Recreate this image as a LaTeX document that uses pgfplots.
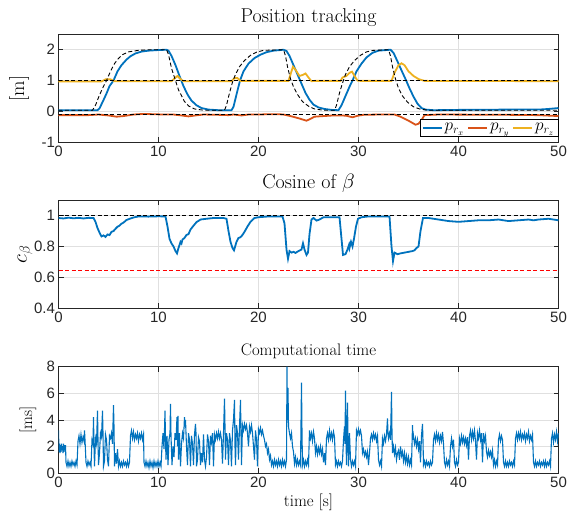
\documentclass[border=0pt]{standalone}
\usepackage{fontspec}
\usepackage{pgfplots}
\pgfplotsset{compat=1.18}
\newfontfamily\tickfont{Liberation Sans}
\definecolor{mblue}{RGB}{0,114,189}
\definecolor{mred}{RGB}{217,83,25}
\definecolor{myellow}{RGB}{237,177,32}
\definecolor{maxis}{RGB}{38,38,38}
\definecolor{mgrid}{RGB}{224,224,224}

\pgfplotsset{
  mstyle/.style={
    scale only axis, width=500pt,
    xmin=0, xmax=50, xtick={0,10,...,50},
    axis line style={maxis, line width=0.6pt},
    tick style={maxis, line width=0.6pt}, tick align=inside,
    major tick length=5pt,
    grid=major, grid style={mgrid, line width=0.6pt},
    tick label style={font=\tickfont\fontsize{15}{15}\selectfont, text=maxis},
    /pgf/number format/assume math mode=true,
    title style={font=\fontsize{20}{22}\selectfont, yshift=-2pt},
    label style={font=\fontsize{20}{22}\selectfont},
  },
  refline/.style={black, line width=0.9pt, dash pattern=on 4pt off 2.5pt, forget plot},
}

\begin{document}
\begin{tikzpicture}
\path[use as bounding box] (0,0) rectangle (568pt,517pt);

% ---------- position tracking
\begin{axis}[mstyle,
  at={(58.5pt,374.7pt)}, anchor=south west, height=108pt,
  ymin=-1, ymax=2.5, ytick={-1,0,1,2},
  title={Position tracking},
  ylabel={[m]},
  ylabel style={at={(axis description cs:-0.079,0.5)}, anchor=center},
  legend style={at={(1,0.052)}, anchor=south east, legend columns=3,
    draw=black, line width=0.6pt, font=\fontsize{17}{17}\selectfont,
    inner sep=2pt, /tikz/every even column/.append style={column sep=1pt}},
  legend image code/.code={\draw[#1, line width=1.8pt] (0pt,0pt) -- (19pt,0pt);},
]
\addplot[mblue, line width=1.8pt] coordinates {
(0,0.04)(3.9,0.04)(4.1,0.1)(4.4,0.3)(4.8,0.58)(5.1,0.82)(5.5,1.0)(5.9,1.3)(6.3,1.5)
(6.8,1.68)(7.2,1.79)(7.7,1.88)(8.3,1.94)(9.0,1.97)(10.0,1.99)(10.8,2.0)(11.0,1.97)
(11.3,1.8)(11.7,1.5)(12.1,1.15)(12.5,0.82)(12.9,0.55)(13.3,0.35)(13.8,0.2)(14.3,0.11)
(15.0,0.06)(16.0,0.04)(17.3,0.04)(17.5,0.15)(17.8,0.55)(18.15,1.0)(18.5,1.3)(19.0,1.55)
(19.6,1.73)(20.2,1.84)(20.8,1.92)(21.5,1.97)(22.5,2.0)(22.8,1.96)(23.1,1.8)(23.5,1.5)
(23.9,1.2)(24.3,0.9)(24.7,0.6)(25.1,0.38)(25.5,0.22)(26.0,0.13)(26.6,0.08)(27.3,0.05)
(28.0,0.04)(28.3,0.2)(28.7,0.5)(29.1,0.8)(29.4,1.0)(29.8,1.3)(30.3,1.55)(30.8,1.75)
(31.4,1.9)(32.0,1.97)(33.2,2.0)(33.5,1.9)(33.9,1.62)(34.3,1.33)(34.7,1.05)(35.1,0.75)
(35.5,0.48)(35.9,0.25)(36.3,0.11)(36.7,0.06)(37.5,0.04)(40,0.05)(45,0.06)(48,0.06)
(49,0.08)(50,0.11)};
\addlegendentry{$p_{r_x}$}
\addplot[mred, line width=1.8pt] coordinates {
(0,-0.12)(3,-0.12)(4,-0.1)(5,-0.13)(5.8,-0.17)(6.5,-0.15)(7.5,-0.1)(8.5,-0.08)(9.5,-0.09)
(10.5,-0.1)(11.5,-0.1)(12.3,-0.13)(13,-0.16)(13.7,-0.13)(14.5,-0.1)(16,-0.11)(17,-0.12)
(17.5,-0.1)(18.3,-0.13)(19,-0.1)(20,-0.1)(21,-0.09)(22,-0.09)(22.5,-0.1)(23.2,-0.15)
(24,-0.22)(24.8,-0.3)(25.2,-0.24)(25.6,-0.17)(26.5,-0.15)(27.5,-0.13)(28.3,-0.13)
(28.8,-0.14)(29.4,-0.19)(29.9,-0.14)(30.5,-0.11)(32,-0.1)(33.6,-0.1)(34.2,-0.17)
(35,-0.3)(35.7,-0.43)(36,-0.4)(36.3,-0.28)(36.6,-0.12)(38,-0.1)(45,-0.11)(48,-0.12)(50,-0.15)};
\addlegendentry{$p_{r_y}$}
\addplot[myellow, line width=1.8pt] coordinates {
(0,0.97)(4.3,0.97)(4.7,1.04)(5.2,1.04)(5.6,0.98)(11.3,0.98)(11.7,1.1)(11.9,1.15)
(12.2,1.05)(12.5,0.98)(17.3,0.98)(17.6,1.08)(17.9,1.08)(18.2,0.99)(23.0,0.99)(23.2,1.2)
(23.45,1.45)(23.7,1.35)(24.1,1.15)(24.4,1.18)(24.7,1.23)(25.0,1.1)(25.3,0.98)(25.6,0.99)
(28.2,0.99)(28.4,1.1)(28.8,1.15)(29.1,1.25)(29.35,1.29)(29.6,1.15)(29.9,1.0)(30.2,0.99)
(33.3,0.99)(33.6,1.25)(34.0,1.5)(34.3,1.56)(34.6,1.5)(35.0,1.3)(35.5,1.15)(36.0,1.05)
(36.6,0.99)(50,0.98)};
\addlegendentry{$p_{r_z}$}
\addplot[refline] coordinates {
(0,0.04)(3.4,0.04)(3.7,0.2)(4.0,0.45)(4.4,0.75)(4.8,1.0)(5.2,1.3)(5.6,1.55)(6.0,1.72)
(6.4,1.84)(7.0,1.93)(8.0,1.98)(9.0,2.0)(10.8,2.0)(11.0,1.85)(11.3,1.4)(11.6,1.1)(12.0,0.7)
(12.6,0.32)(13.0,0.18)(13.6,0.08)(14.5,0.04)(16.6,0.04)(16.8,0.2)(17.1,0.6)(17.4,0.95)
(17.7,1.2)(18.1,1.45)(18.6,1.65)(19.2,1.82)(19.8,1.92)(20.5,1.98)(22.5,2.0)(22.7,1.8)
(22.9,1.45)(23.2,1.05)(23.5,0.8)(23.9,0.55)(24.4,0.32)(25.0,0.17)(25.6,0.08)(26.5,0.04)
(27.6,0.04)(27.8,0.2)(28.1,0.6)(28.4,0.92)(28.7,1.2)(29.1,1.45)(29.6,1.65)(30.2,1.82)
(30.8,1.93)(31.5,1.98)(33.0,2.0)(33.2,1.8)(33.4,1.45)(33.7,1.05)(34.0,0.75)(34.4,0.5)
(34.9,0.3)(35.5,0.15)(36.2,0.07)(37,0.04)(50,0.04)};
\addplot[refline] coordinates {(0,1)(50,1)};
\addplot[refline] coordinates {(0,-0.1)(50,-0.1)};
\end{axis}

% ---------- cosine of beta
\begin{axis}[mstyle,
  at={(58.5pt,209pt)}, anchor=south west, height=107.7pt,
  ymin=0.4, ymax=1.1, ytick={0.4,0.6,0.8,1},
  title={Cosine of $\beta$},
  ylabel={$c_{\beta}$},
  ylabel style={at={(axis description cs:-0.067,0.5)}, anchor=center},
]
\addplot[mblue, line width=1.8pt] coordinates {
(0,0.985)(0.5,0.982)(1,0.987)(1.5,0.983)(2,0.986)(2.5,0.982)(3,0.986)(3.5,0.985)
(3.7,0.96)(3.9,0.92)(4.1,0.89)(4.3,0.865)(4.5,0.872)(4.7,0.862)(4.9,0.878)(5.1,0.874)
(5.3,0.895)(5.5,0.9)(5.7,0.915)(5.9,0.928)(6.1,0.935)(6.3,0.948)(6.5,0.955)(6.8,0.972)
(7.2,0.982)(7.6,0.99)(8,0.995)(9,0.994)(10,0.996)(10.7,0.995)(10.9,0.93)(11.1,0.85)
(11.3,0.82)(11.5,0.8)(11.7,0.77)(11.85,0.755)(12.0,0.79)(12.2,0.83)(12.3,0.82)(12.4,0.845)
(12.6,0.855)(12.8,0.875)(13.0,0.88)(13.2,0.91)(13.5,0.935)(13.8,0.958)(14.2,0.975)
(14.8,0.98)(15.5,0.985)(16.5,0.985)(16.8,0.98)(17.0,0.9)(17.2,0.83)(17.4,0.79)
(17.55,0.775)(17.8,0.83)(18.0,0.855)(18.2,0.86)(18.4,0.875)(18.6,0.895)(18.9,0.93)
(19.2,0.96)(19.6,0.985)(20.0,0.99)(21,0.995)(22.4,0.995)(22.6,0.95)(22.8,0.78)
(22.95,0.72)(23.1,0.77)(23.3,0.76)(23.5,0.765)(23.7,0.758)(24.0,0.77)(24.3,0.78)
(24.45,0.82)(24.6,0.78)(24.8,0.745)(24.95,0.76)(25.1,0.88)(25.3,0.975)(25.5,0.985)
(25.8,0.968)(26.1,0.975)(26.5,0.99)(27.5,0.99)(28.1,0.99)(28.3,0.85)(28.45,0.745)
(28.7,0.75)(28.9,0.78)(29.05,0.81)(29.1,0.79)(29.25,0.83)(29.4,0.8)(29.55,0.85)
(29.75,0.93)(29.95,0.98)(30.3,0.99)(31,0.995)(33.1,0.995)(33.3,0.8)(33.45,0.705)
(33.6,0.76)(33.9,0.75)(34.2,0.755)(34.6,0.76)(35.0,0.765)(35.4,0.77)(35.6,0.775)
(35.8,0.79)(36.0,0.8)(36.2,0.9)(36.45,0.985)(37,0.985)(38,0.975)(39,0.965)(40,0.96)
(41,0.965)(42,0.97)(43,0.97)(44,0.975)(45,0.965)(46,0.97)(47,0.975)(47.5,0.97)
(48,0.975)(49,0.98)(50,0.97)};
\addplot[refline] coordinates {(0,1)(50,1)};
\addplot[red, line width=0.9pt, dash pattern=on 4pt off 2.5pt] coordinates {(0,0.643)(50,0.643)};
\end{axis}

% ---------- computational time
\begin{axis}[mstyle,
  at={(58.5pt,44pt)}, anchor=south west, height=106.3pt,
  ymin=0, ymax=8, ytick={0,2,4,6,8},
  title={Computational time},
  title style={font=\fontsize{16.7}{18}\selectfont},
  label style={font=\fontsize{16.7}{18}\selectfont},
  xlabel={time [s]},
  ylabel={[ms]},
  ylabel style={at={(axis description cs:-0.061,0.5)}, anchor=center},
]
\addplot[mblue, line width=1.1pt] table {
0.00 3.2
0.05 1.6
0.10 2.2
0.15 1.5
0.20 2.1
0.25 1.6
0.30 2.2
0.35 1.7
0.40 2.0
0.45 1.5
0.50 2.2
0.55 1.6
0.60 2.1
0.65 1.7
0.70 2.1
0.75 0.8
0.85 0.5
0.95 0.9
1.05 0.5
1.15 0.8
1.25 0.5
1.35 0.9
1.45 0.6
1.55 0.8
1.65 0.5
1.75 0.9
1.85 0.6
1.95 2.4
2.05 2.8
2.15 2.2
2.25 2.9
2.35 2.3
2.45 2.7
2.55 2.4
2.60 3.2
2.65 2.5
2.75 0.8
2.85 0.5
2.95 0.9
3.05 0.6
3.15 0.8
3.25 0.5
3.35 2.5
3.45 2.2
3.50 4.2
3.55 2.0
3.60 0.5
3.70 2.6
3.80 2.2
3.90 4.7
3.95 2.5
4.00 0.6
4.10 1.5
4.20 3.0
4.30 2.7
4.40 4.7
4.45 3.0
4.50 0.5
4.60 0.9
4.70 2.9
4.80 2.5
4.90 1.0
5.00 0.5
5.10 2.8
5.20 2.6
5.30 3.0
5.40 2.2
5.50 5.1
5.55 3.5
5.60 0.5
5.70 1.5
5.80 0.7
5.90 1.8
6.00 0.5
6.10 0.9
6.20 0.5
6.30 0.8
6.40 0.5
6.50 0.9
6.60 0.6
6.70 0.8
6.80 0.5
6.90 0.9
7.00 0.5
7.10 0.8
7.20 2.8
7.30 3.2
7.40 2.6
7.50 3.1
7.60 2.5
7.70 2.9
7.80 2.6
7.90 3.0
8.00 2.4
8.10 2.9
8.20 2.6
8.30 3.0
8.40 2.5
8.50 2.9
8.55 0.8
8.65 0.5
8.75 0.9
8.85 0.5
8.95 0.8
9.05 0.4
9.15 0.9
9.25 0.5
9.35 0.8
9.45 0.4
9.55 0.9
9.65 0.5
9.75 0.8
9.85 0.5
9.95 0.9
10.05 0.5
10.15 0.8
10.25 0.5
10.35 2.0
10.45 3.0
10.55 1.8
10.65 4.7
10.70 2.5
10.75 1.0
10.85 2.8
10.95 0.6
11.05 2.5
11.15 3.0
11.20 5.2
11.25 2.8
11.35 0.6
11.45 2.0
11.55 1.2
11.65 3.0
11.75 2.5
11.85 4.2
11.90 2.0
11.95 4.3
12.00 1.0
12.10 3.0
12.20 0.5
12.30 2.2
12.40 3.0
12.50 2.6
12.60 4.2
12.65 3.5
12.70 4.0
12.80 2.0
12.90 0.6
13.00 3.0
13.10 2.5
13.20 0.5
13.30 2.8
13.40 2.2
13.50 0.6
13.60 2.9
13.70 3.7
13.75 3.0
13.80 0.5
13.90 1.0
14.00 2.7
14.10 2.4
14.20 0.6
14.30 1.5
14.40 0.8
14.50 2.9
14.60 1.0
14.70 0.5
14.80 1.2
14.90 2.9
15.00 2.4
15.10 0.6
15.20 2.8
15.30 2.3
15.40 3.0
15.50 0.5
15.60 2.9
15.70 2.5
15.80 3.0
15.90 2.6
16.00 3.1
16.10 2.6
16.20 3.0
16.30 2.5
16.40 0.7
16.50 3.0
16.60 5.6
16.65 3.5
16.70 1.0
16.80 3.0
16.90 2.5
17.00 0.6
17.10 3.0
17.20 2.4
17.30 0.5
17.40 3.2
17.50 4.0
17.60 5.5
17.65 2.0
17.70 0.6
17.80 3.6
17.90 3.0
18.00 1.0
18.10 3.5
18.20 5.5
18.25 3.0
18.30 0.6
18.40 3.6
18.50 3.2
18.60 3.7
18.70 3.3
18.80 3.6
18.90 3.0
19.00 2.0
19.10 3.5
19.20 3.1
19.30 3.6
19.40 3.0
19.50 2.0
19.60 1.0
19.70 3.2
19.80 2.5
19.90 0.5
20.00 3.3
20.10 3.0
20.20 3.4
20.30 2.9
20.40 3.2
20.50 2.8
20.60 2.5
20.70 2.0
20.80 2.2
20.90 1.5
21.00 1.8
21.10 1.0
21.20 1.3
21.30 0.6
21.40 0.9
21.50 0.5
21.60 1.0
21.70 0.6
21.80 0.9
21.90 0.5
22.00 1.0
22.10 0.6
22.20 0.9
22.30 0.5
22.40 1.0
22.50 0.6
22.60 0.9
22.70 0.5
22.80 1.0
22.85 8.0
22.90 4.0
22.95 6.4
23.00 3.5
23.10 3.0
23.20 2.6
23.30 3.0
23.40 2.0
23.50 1.6
23.60 0.7
23.70 1.2
23.80 0.6
23.90 1.0
24.00 0.6
24.10 0.9
24.20 0.6
24.30 6.8
24.35 3.0
24.40 0.6
24.50 1.0
24.60 0.5
24.70 0.9
24.80 0.6
24.90 1.0
25.00 0.6
25.10 3.2
25.20 2.6
25.30 3.0
25.40 2.4
25.50 3.1
25.60 2.6
25.70 1.5
25.80 2.0
25.90 1.4
26.00 1.9
26.10 1.5
26.20 2.0
26.30 1.4
26.40 1.8
26.50 0.8
26.60 1.5
26.70 0.6
26.80 2.6
26.90 3.0
27.00 2.5
27.10 3.2
27.20 2.6
27.30 3.0
27.40 2.5
27.50 3.1
27.60 2.7
27.70 0.6
27.80 0.9
27.90 0.5
28.00 0.9
28.10 0.6
28.20 0.8
28.30 0.5
28.40 0.9
28.50 2.5
28.60 3.5
28.65 2.2
28.70 6.2
28.75 2.6
28.80 0.6
28.90 5.3
28.95 2.5
29.00 0.5
29.10 3.0
29.20 1.0
29.30 0.5
29.40 0.9
29.50 0.6
29.60 0.9
29.70 0.5
29.80 3.2
29.90 2.9
30.00 3.3
30.10 2.9
30.20 3.2
30.30 2.8
30.40 1.5
30.50 1.8
30.60 1.3
30.70 1.6
30.80 1.2
30.90 1.6
31.00 0.6
31.10 1.5
31.20 2.6
31.30 2.9
31.40 2.5
31.50 3.0
31.60 2.6
31.70 2.9
31.80 2.4
31.90 2.8
32.00 1.0
32.10 0.6
32.20 0.9
32.30 0.5
32.40 2.6
32.50 2.2
32.60 2.8
32.70 2.4
32.80 2.9
32.90 4.1
32.95 3.0
33.00 2.6
33.10 3.0
33.20 2.5
33.30 6.1
33.35 3.0
33.40 1.5
33.50 2.0
33.60 1.4
33.70 1.9
33.80 1.0
33.90 1.5
34.00 1.7
34.10 1.0
34.20 2.0
34.30 1.3
34.40 1.6
34.50 0.9
34.60 1.5
34.70 0.8
34.80 1.3
34.90 0.7
35.00 1.2
35.10 0.6
35.20 1.0
35.30 0.6
35.40 3.6
35.45 2.5
35.50 2.8
35.60 2.2
35.70 2.6
35.80 2.0
35.90 2.5
36.00 1.8
36.10 2.4
36.20 0.8
36.30 2.8
36.40 3.7
36.45 2.4
36.50 0.6
36.60 0.9
36.70 0.5
36.80 0.9
36.90 0.6
37.00 0.8
37.10 0.5
37.20 0.9
37.30 0.6
37.40 0.8
37.50 2.5
37.60 2.9
37.70 2.4
37.80 3.0
37.90 2.5
38.00 2.9
38.10 2.3
38.20 2.8
38.30 2.4
38.40 3.1
38.50 2.2
38.60 0.8
38.70 0.5
38.80 1.0
38.90 0.6
39.00 0.9
39.10 0.5
39.20 2.0
39.30 2.6
39.40 2.0
39.50 2.5
39.60 0.8
39.70 0.5
39.80 1.0
39.90 0.6
40.00 0.8
40.10 2.6
40.20 2.2
40.30 2.8
40.40 2.3
40.50 2.7
40.60 2.2
40.70 2.6
40.80 2.1
40.90 2.7
41.00 1.0
41.10 2.8
41.20 3.2
41.30 2.5
41.40 3.1
41.50 2.6
41.60 3.2
41.70 2.4
41.80 1.0
41.90 3.0
42.00 2.6
42.10 3.2
42.20 2.5
42.30 3.0
42.40 0.8
42.50 3.0
42.60 2.4
42.70 2.8
42.80 1.6
42.90 1.2
43.00 1.7
43.10 1.3
43.20 1.6
43.30 1.2
43.40 1.7
43.50 0.6
43.60 1.0
43.70 0.5
43.80 0.9
43.90 0.6
44.00 2.5
44.10 2.9
44.20 2.4
44.30 2.8
44.40 2.5
44.50 0.8
44.60 0.5
44.70 0.9
44.80 0.5
44.90 0.8
45.00 0.5
45.10 0.9
45.20 0.6
45.30 0.8
45.40 0.5
45.50 0.9
45.60 0.6
45.70 2.6
45.80 3.0
45.90 2.5
46.00 3.0
46.10 2.6
46.20 3.1
46.30 2.5
46.40 2.9
46.50 2.6
46.60 3.0
46.70 2.4
46.80 2.9
46.90 2.6
47.00 3.1
47.10 2.4
47.20 2.8
47.30 2.5
47.40 2.9
47.50 0.8
47.60 0.5
47.70 0.9
47.80 0.5
47.90 0.8
48.00 0.6
48.10 0.9
48.20 0.5
48.30 0.8
48.40 0.6
48.50 0.9
48.60 0.5
48.70 0.9
48.80 0.5
48.90 0.8
49.00 0.6
49.10 0.9
49.20 0.5
49.30 2.6
49.40 3.0
49.50 2.3
49.60 2.9
49.70 2.5
49.80 3.1
49.90 2.4
50.00 3.0
};
\end{axis}
\end{tikzpicture}
\end{document}
